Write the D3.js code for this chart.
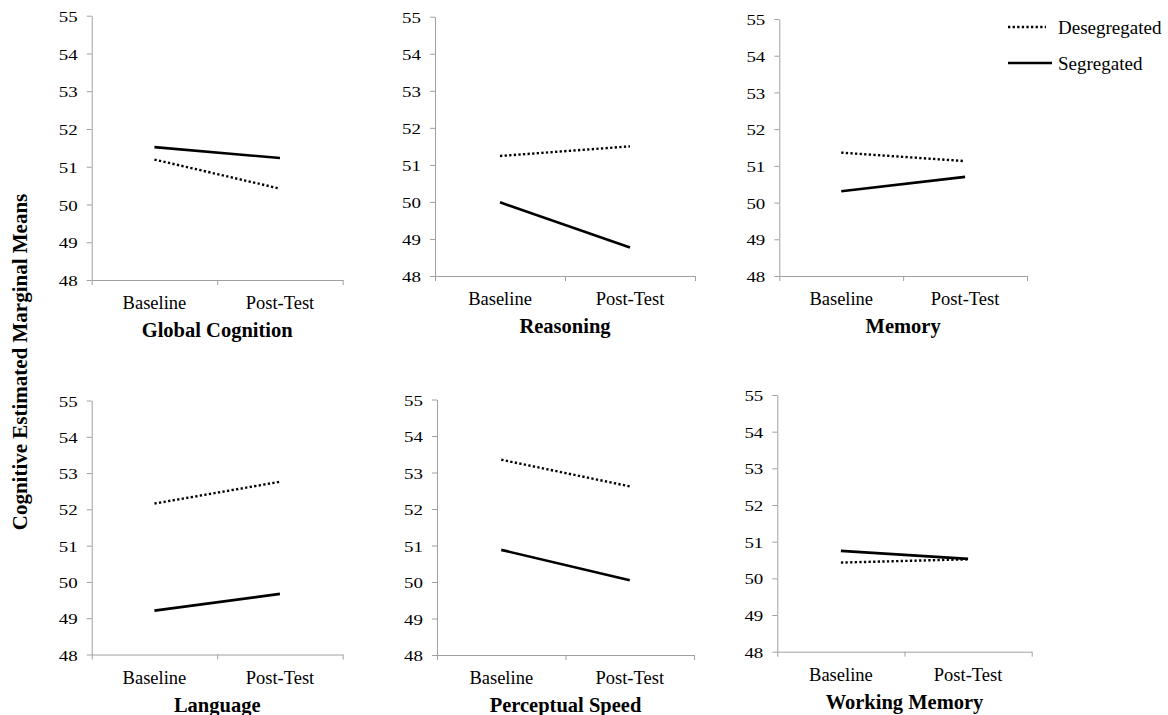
<!DOCTYPE html>
<html>
<head>
<meta charset="utf-8">
<script src="https://cdn.jsdelivr.net/npm/d3@7"></script>
</head>
<body style="margin:0; background:#fff">
<script>
// chart data
var categories = ["Baseline", "Post-Test"];
var domains = ["Global Cognition", "Reasoning", "Memory", "Language", "Perceptual Speed", "Working Memory"];
var seriesNames = ["Desegregated", "Segregated"];
var desegregated = [[51.19, 50.42], [51.24, 51.50], [51.36, 51.13], [52.16, 52.76], [53.35, 52.62], [50.43, 50.52]];
var segregated = [[51.52, 51.23], [49.99, 48.77], [50.31, 50.70], [49.21, 49.67], [50.88, 50.05], [50.75, 50.53]];
var yTicks = [48, 49, 50, 51, 52, 53, 54, 55];

var svgWidth = 1168;
var svgHeight = 715;
var serif = "Liberation Serif";

// panel frames: left, right, top (55), bottom (48)
var panels = [
    {x0: 91.7, x1: 342.7, top: 15.7, bottom: 280},
    {x0: 435, x1: 695, top: 16.7, bottom: 276},
    {x0: 779.3, x1: 1027, top: 19, bottom: 276},
    {x0: 91.7, x1: 342.7, top: 400.5, bottom: 654.5},
    {x0: 437, x1: 694, top: 399.5, bottom: 655},
    {x0: 777.3, x1: 1031.7, top: 395, bottom: 651.7}
];

var axisColor = "#a0a0a0";

var svg = d3.select("body")
    .append("svg")
    .attr("width", svgWidth)
    .attr("height", svgHeight);

var line = d3.line();

panels.forEach(function(p, i) {
    var g = svg.append("g").attr("class", "panel");

    var yScale = d3.scaleLinear()
        .domain([d3.min(yTicks), d3.max(yTicks)])
        .range([p.bottom, p.top]);

    var xBand = d3.scaleBand()
        .domain(categories)
        .range([p.x0, p.x1]);

    // boundaries between the categories, for the tick marks
    var xEdge = d3.scaleLinear()
        .domain([0, categories.length])
        .range([p.x0, p.x1]);

    // y axis
    var yAxis = g.append("g")
        .attr("transform", `translate(${p.x0},0)`)
        .call(d3.axisLeft(yScale).tickValues(yTicks).tickSize(5).tickSizeOuter(0).tickFormat(d3.format("d")));
    yAxis.select(".domain").attr("stroke", axisColor);
    yAxis.selectAll(".tick line").attr("stroke", axisColor);
    yAxis.selectAll(".tick text")
        .attr("x", 0)
        .attr("dy", "0.36em")
        .attr("transform", "translate(-14,0) scale(1.22,1)")
        .style("font-family", serif)
        .style("font-size", "15.5px")
        .style("fill", "#000");

    // x axis line and ticks
    var xAxis = g.append("g")
        .attr("transform", `translate(0,${p.bottom})`)
        .call(d3.axisBottom(xEdge).tickValues(d3.range(categories.length + 1)).tickSize(5).tickSizeOuter(0).tickFormat(""));
    xAxis.select(".domain").attr("stroke", axisColor);
    xAxis.selectAll(".tick line").attr("stroke", axisColor);

    // category labels
    var xLabels = g.append("g")
        .attr("transform", `translate(0,${p.bottom})`)
        .call(d3.axisBottom(xBand).tickSize(0).tickPadding(16));
    xLabels.select(".domain").remove();
    xLabels.selectAll(".tick text")
        .attr("dy", "0.71em")
        .style("font-family", serif)
        .style("font-size", "18.5px")
        .style("fill", "#000");

    // panel title
    g.append("text")
        .attr("x", (p.x0 + p.x1) / 2)
        .attr("y", p.bottom + 57)
        .attr("text-anchor", "middle")
        .style("font-family", serif)
        .style("font-size", "20.5px")
        .style("font-weight", "bold")
        .text(domains[i]);

    // series lines
    var px = function(d, j) { return [xBand(categories[j]) + xBand.bandwidth() / 2, yScale(d)]; };

    g.append("path")
        .attr("d", line(desegregated[i].map(px)))
        .attr("fill", "none")
        .attr("stroke", "#000")
        .attr("stroke-width", 2.4)
        .attr("stroke-dasharray", "2.3,2.3");

    g.append("path")
        .attr("d", line(segregated[i].map(px)))
        .attr("fill", "none")
        .attr("stroke", "#000")
        .attr("stroke-width", 2.6);
});

// y axis title
svg.append("text")
    .attr("transform", "translate(27,362) rotate(-90)")
    .attr("text-anchor", "middle")
    .style("font-family", serif)
    .style("font-size", "21px")
    .style("font-weight", "bold")
    .text("Cognitive Estimated Marginal Means");

// legend
var legend = svg.append("g").attr("class", "legend");
var legendRows = [
    {name: seriesNames[0], y: 27, x1: 1046, dash: "2.3,2.3"},
    {name: seriesNames[1], y: 63, x1: 1052, dash: null}
];
legendRows.forEach(function(r) {
    legend.append("line")
        .attr("x1", 1008).attr("x2", r.x1)
        .attr("y1", r.y).attr("y2", r.y)
        .attr("stroke", "#000")
        .attr("stroke-width", r.dash ? 2.4 : 2.6)
        .attr("stroke-dasharray", r.dash);
    legend.append("text")
        .attr("x", 1058)
        .attr("y", r.y + 6.5)
        .style("font-family", serif)
        .style("font-size", "19px")
        .text(r.name);
});
</script>
</body>
</html>
